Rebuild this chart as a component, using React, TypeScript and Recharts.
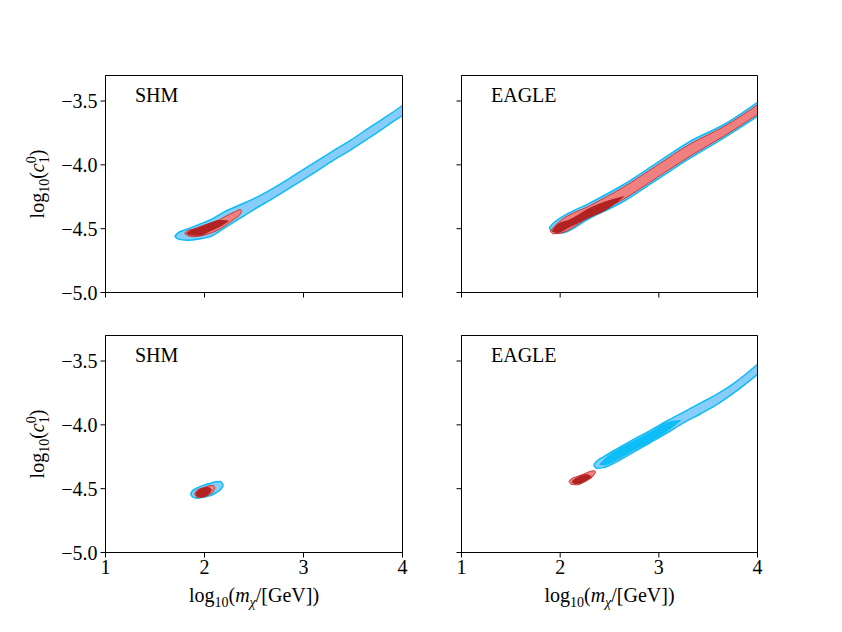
import { ComposedChart, Area, XAxis, YAxis, ReferenceArea } from "recharts";

// each contour: [log10 mass, lower edge, upper edge]
type Pt = [number, number, number];

const xTicks = [1, 2, 3, 4];
const yTicks = [-5.0, -4.5, -4.0, -3.5];
const panelNames = ["SHM", "EAGLE", "SHM", "EAGLE"];

// top left, SHM
const shmTopBlueOuter: Pt[] = [
  [1.7, -4.56, -4.56],
  [1.73, -4.58, -4.535],
  [1.82, -4.59, -4.505],
  [1.95, -4.58, -4.465],
  [2.06, -4.562, -4.43],
  [2.2, -4.495, -4.368],
  [2.36, -4.418, -4.313],
  [2.5, -4.35, -4.265],
  [2.7, -4.258, -4.18],
  [2.9, -4.163, -4.085],
  [3.13, -4.051, -3.972],
  [3.3, -3.965, -3.89],
  [3.47, -3.886, -3.81],
  [3.7, -3.77, -3.69],
  [3.85, -3.69, -3.615],
  [4.0, -3.613, -3.535],
];
const shmTopRedOuter: Pt[] = [
  [1.8, -4.537, -4.537],
  [1.83, -4.555, -4.515],
  [1.89, -4.563, -4.503],
  [1.97, -4.555, -4.48],
  [2.06, -4.535, -4.455],
  [2.15, -4.505, -4.43],
  [2.22, -4.47, -4.4],
  [2.3, -4.425, -4.37],
  [2.365, -4.38, -4.35],
  [2.375, -4.365, -4.365],
];
const shmTopRedInner: Pt[] = [
  [1.82, -4.536, -4.536],
  [1.86, -4.55, -4.515],
  [1.95, -4.552, -4.49],
  [2.05, -4.52, -4.46],
  [2.16, -4.48, -4.435],
  [2.24, -4.44, -4.44],
];

// top right, EAGLE
const eagleTopBlueOuter: Pt[] = [
  [1.89, -4.495, -4.495],
  [1.92, -4.525, -4.465],
  [2.0, -4.536, -4.418],
  [2.3, -4.418, -4.3],
  [2.64, -4.287, -4.156],
  [2.98, -4.116, -3.985],
  [3.32, -3.946, -3.815],
  [3.66, -3.788, -3.684],
  [4.0, -3.62, -3.51],
];
const eagleTopRedOuter: Pt[] = [
  [1.9, -4.52, -4.52],
  [1.93, -4.54, -4.49],
  [2.0, -4.535, -4.44],
  [2.3, -4.405, -4.32],
  [2.64, -4.27, -4.175],
  [2.98, -4.1, -4.005],
  [3.32, -3.93, -3.835],
  [3.66, -3.775, -3.7],
  [4.0, -3.605, -3.53],
];
const eagleTopRedInner: Pt[] = [
  [1.92, -4.52, -4.52],
  [1.97, -4.53, -4.47],
  [2.1, -4.484, -4.43],
  [2.3, -4.41, -4.34],
  [2.47, -4.35, -4.287],
  [2.64, -4.25, -4.25],
];

// bottom left, SHM
const shmBotBlueOuter: Pt[] = [
  [1.86, -4.543, -4.543],
  [1.88, -4.565, -4.515],
  [1.92, -4.575, -4.496],
  [2.0, -4.565, -4.47],
  [2.06, -4.554, -4.457],
  [2.12, -4.53, -4.446],
  [2.16, -4.509, -4.444],
  [2.19, -4.476, -4.476],
];
const shmBotRedOuter: Pt[] = [
  [1.9, -4.543, -4.543],
  [1.92, -4.565, -4.515],
  [1.95, -4.57, -4.502],
  [2.0, -4.563, -4.49],
  [2.055, -4.543, -4.476],
  [2.09, -4.52, -4.475],
  [2.105, -4.495, -4.495],
];
const shmBotRedInner: Pt[] = [
  [1.913, -4.543, -4.543],
  [1.93, -4.56, -4.52],
  [1.97, -4.565, -4.5],
  [2.04, -4.543, -4.49],
  [2.07, -4.509, -4.509],
];

// bottom right, EAGLE
const eagleBotBlueOuter: Pt[] = [
  [2.34, -4.313, -4.313],
  [2.37, -4.34, -4.285],
  [2.44, -4.335, -4.25],
  [2.57, -4.29, -4.19],
  [2.74, -4.215, -4.115],
  [2.91, -4.14, -4.045],
  [3.08, -4.065, -3.97],
  [3.25, -3.984, -3.9],
  [3.42, -3.915, -3.83],
  [3.59, -3.84, -3.76],
  [3.76, -3.75, -3.675],
  [4.0, -3.604, -3.525],
];
const eagleBotBlueInner: Pt[] = [
  [2.4, -4.31, -4.31],
  [2.45, -4.315, -4.27],
  [2.57, -4.275, -4.2],
  [2.74, -4.2, -4.13],
  [2.91, -4.13, -4.06],
  [3.08, -4.05, -3.985],
  [3.22, -3.965, -3.965],
];
const eagleBotRedOuter: Pt[] = [
  [2.09, -4.444, -4.444],
  [2.11, -4.465, -4.425],
  [2.17, -4.47, -4.405],
  [2.24, -4.45, -4.385],
  [2.3, -4.423, -4.365],
  [2.345, -4.39, -4.36],
  [2.36, -4.37, -4.37],
];
const eagleBotRedInner: Pt[] = [
  [2.12, -4.445, -4.445],
  [2.15, -4.46, -4.425],
  [2.2, -4.457, -4.405],
  [2.27, -4.43, -4.39],
  [2.32, -4.41, -4.41],
];

const FONT = "'Liberation Serif', 'DejaVu Serif', serif";
const BLUE_OUT = { fill: "#86cdf9", stroke: "#0fbbf5", width: 1.5 };
const BLUE_IN = { fill: "#0cbdf6", stroke: "#0cbdf6", width: 1 };
const RED_OUT = { fill: "#f08080", stroke: "#c23a3a", width: 1 };
const RED_IN = { fill: "#b22222", stroke: "#b22222", width: 1 };

type Layer = { data: Pt[]; fill: string; stroke: string; width: number };

function buildRows(layers: Layer[]) {
  const xs = Array.from(new Set(layers.flatMap((l) => l.data.map((p) => p[0])))).sort(
    (a, b) => a - b
  );
  return xs.map((x) => {
    const row: any = { x };
    layers.forEach((l, i) => {
      const p = l.data.find((q) => q[0] === x);
      if (p) row["c" + i] = [p[1], p[2]];
    });
    return row;
  });
}

const fmtY = (v: number) => v.toFixed(1).replace("-", "\u2212");

const ML = 90.5;
const MT = 10.5;
const PH = 217;

const YLabel = () => (
  <text
    transform={`translate(29, ${MT + PH / 2}) rotate(-90)`}
    textAnchor="middle"
    fontFamily={FONT}
    fontSize={20}
    fill="#000"
  >
    log
    <tspan fontSize={14} dy={5}>10</tspan>
    <tspan dy={-5}>(</tspan>
    <tspan fontStyle="italic">c</tspan>
    <tspan fontSize={14} dy={5}>1</tspan>
    <tspan fontSize={14} dx={-7} dy={-13}>0</tspan>
    <tspan dy={8}>)</tspan>
  </text>
);

const XLabel = ({ pw }: { pw: number }) => (
  <text
    x={ML + pw / 2}
    y={MT + PH + 49.5}
    textAnchor="middle"
    fontFamily={FONT}
    fontSize={20}
    fill="#000"
  >
    log
    <tspan fontSize={14} dy={5}>10</tspan>
    <tspan dy={-5}>(</tspan>
    <tspan fontStyle="italic">m</tspan>
    <tspan fontSize={14} fontStyle="italic" dy={5}>χ</tspan>
    <tspan dy={-5}>/[GeV])</tspan>
  </text>
);

function Panel(props: {
  name: string;
  layers: Layer[];
  left: number;
  top: number;
  pw: number;
  showX: boolean;
  showY: boolean;
}) {
  const { name, layers, left, top, pw, showX, showY } = props;
  const rows = buildRows(layers);
  const tickStyle = { fill: "#000", fontSize: 20, fontFamily: FONT };
  return (
    <div style={{ position: "absolute", left: left - ML, top: top - MT }}>
      <ComposedChart
        width={ML + pw + 10.5}
        height={MT + PH + 60.5}
        data={rows}
        margin={{ top: MT, right: 10.5, left: 0.5, bottom: 0.5 }}
      >
        <XAxis
          dataKey="x"
          type="number"
          domain={[1, 4]}
          ticks={xTicks}
          interval={0}
          allowDataOverflow
          height={60}
          tickSize={5}
          tickMargin={2}
          stroke="#000"
          tick={tickStyle}
          tickFormatter={(v: number) => (showX ? String(v) : "")}
          label={showX ? () => <XLabel pw={pw} /> : undefined}
        />
        <YAxis
          type="number"
          domain={[-5, -3.3]}
          ticks={yTicks}
          interval={0}
          allowDataOverflow
          width={90}
          tickSize={5}
          tickMargin={3}
          stroke="#000"
          tick={tickStyle}
          tickFormatter={(v: number) => (showY ? fmtY(v) : "")}
          label={showY ? () => <YLabel /> : undefined}
        />
        {layers.map((l, i) => (
          <Area
            key={i}
            dataKey={"c" + i}
            type="monotone"
            fill={l.fill}
            fillOpacity={1}
            stroke={l.stroke}
            strokeWidth={l.width}
            connectNulls
            dot={false}
            activeDot={false}
            isAnimationActive={false}
          />
        ))}
        <ReferenceArea
          x1={1}
          x2={4}
          y1={-5}
          y2={-3.3}
          fill="none"
          stroke="#000"
          strokeWidth={1}
          label={() => (
            <text
              x={ML + 29.5}
              y={MT + 26}
              fontFamily={FONT}
              fontSize={20}
              fill="#000"
            >
              {name}
            </text>
          )}
        />
      </ComposedChart>
    </div>
  );
}

const lay = (data: Pt[], s: { fill: string; stroke: string; width: number }): Layer => ({
  data,
  ...s,
});

export default function App() {
  return (
    <div
      style={{
        position: "absolute",
        left: 0,
        top: 0,
        width: 842,
        height: 632,
        background: "#fff",
        overflow: "hidden",
      }}
    >
      <Panel
        name={panelNames[0]}
        left={105.5}
        top={75.5}
        pw={297}
        showX={false}
        showY={true}
        layers={[
          lay(shmTopBlueOuter, BLUE_OUT),
          lay(shmTopRedOuter, RED_OUT),
          lay(shmTopRedInner, RED_IN),
        ]}
      />
      <Panel
        name={panelNames[1]}
        left={461.5}
        top={75.5}
        pw={296}
        showX={false}
        showY={false}
        layers={[
          lay(eagleTopBlueOuter, BLUE_OUT),
          lay(eagleTopRedOuter, RED_OUT),
          lay(eagleTopRedInner, RED_IN),
        ]}
      />
      <Panel
        name={panelNames[2]}
        left={105.5}
        top={335.5}
        pw={297}
        showX={true}
        showY={true}
        layers={[
          lay(shmBotBlueOuter, BLUE_OUT),
          lay(shmBotRedOuter, RED_OUT),
          lay(shmBotRedInner, RED_IN),
        ]}
      />
      <Panel
        name={panelNames[3]}
        left={461.5}
        top={335.5}
        pw={296}
        showX={true}
        showY={false}
        layers={[
          lay(eagleBotBlueOuter, BLUE_OUT),
          lay(eagleBotBlueInner, BLUE_IN),
          lay(eagleBotRedOuter, RED_OUT),
          lay(eagleBotRedInner, RED_IN),
        ]}
      />
    </div>
  );
}
